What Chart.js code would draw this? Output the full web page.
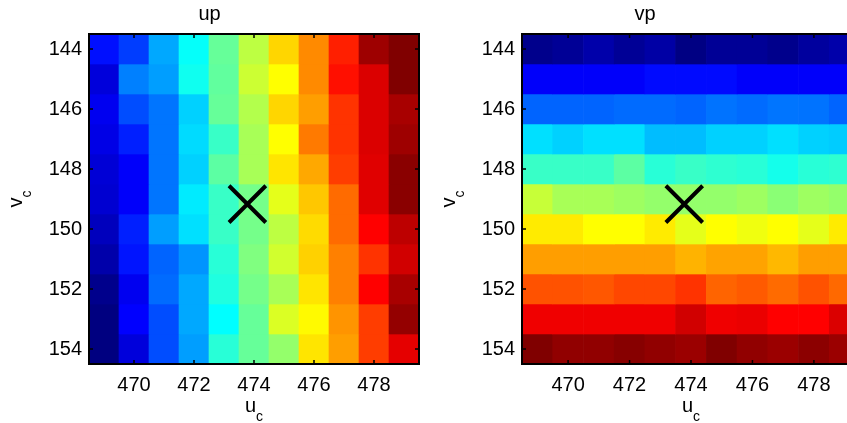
<!DOCTYPE html>
<html>
<head>
<meta charset="utf-8">
<script src="https://cdn.jsdelivr.net/npm/chart.js@4"></script>
<style>
    html, body { margin: 0; padding: 0; background: #fff; overflow: hidden; width: 847px; height: 423px; }
    .panel { position: absolute; top: 0; width: 430px; height: 423px; }
</style>
</head>
<body>
<div class="panel" style="left:0"><canvas id="upChart"></canvas></div>
<div class="panel" style="left:430px"><canvas id="vpChart"></canvas></div>
<script>
// grid coordinates
const uValues = [469, 470, 471, 472, 473, 474, 475, 476, 477, 478, 479];
const vValues = [144, 145, 146, 147, 148, 149, 150, 151, 152, 153, 154];
const xTicks = [470, 472, 474, 476, 478];
const yTicks = [144, 146, 148, 150, 152, 154];

// marked point (uc, vc)
const markU = [473.78];
const markV = [149.17];

// colormap levels (0..1), one row per vc, one column per uc
const upLevels = [
    [0.14, 0.185, 0.29, 0.38, 0.475, 0.56, 0.665, 0.74, 0.845, 0.97, 1.0],
    [0.09, 0.25, 0.28, 0.39, 0.47, 0.575, 0.625, 0.74, 0.86, 0.91, 1.0],
    [0.11, 0.20, 0.24, 0.33, 0.475, 0.55, 0.665, 0.72, 0.825, 0.91, 0.96],
    [0.10, 0.155, 0.24, 0.34, 0.43, 0.54, 0.625, 0.755, 0.825, 0.91, 0.97],
    [0.085, 0.12, 0.24, 0.33, 0.465, 0.54, 0.65, 0.71, 0.815, 0.905, 0.99],
    [0.08, 0.12, 0.24, 0.355, 0.43, 0.49, 0.60, 0.68, 0.77, 0.905, 0.99],
    [0.06, 0.155, 0.28, 0.345, 0.43, 0.49, 0.56, 0.66, 0.77, 0.875, 0.94],
    [0.042, 0.145, 0.223, 0.27, 0.414, 0.50, 0.58, 0.67, 0.75, 0.825, 0.92],
    [0.012, 0.11, 0.23, 0.29, 0.405, 0.49, 0.54, 0.65, 0.75, 0.875, 0.96],
    [0.0, 0.125, 0.20, 0.29, 0.375, 0.475, 0.59, 0.63, 0.73, 0.815, 0.98],
    [0.0, 0.09, 0.20, 0.28, 0.414, 0.475, 0.52, 0.65, 0.72, 0.815, 0.90]
];

const vpLevels = [
    [0.012, 0.022, 0.042, 0.022, 0.037, 0.003, 0.022, 0.022, 0.012, 0.03, 0.042],
    [0.12, 0.12, 0.12, 0.12, 0.135, 0.135, 0.135, 0.12, 0.12, 0.12, 0.12],
    [0.223, 0.223, 0.223, 0.23, 0.23, 0.223, 0.238, 0.23, 0.24, 0.238, 0.223],
    [0.345, 0.33, 0.345, 0.345, 0.31, 0.31, 0.33, 0.33, 0.345, 0.33, 0.325],
    [0.43, 0.43, 0.43, 0.465, 0.414, 0.43, 0.42, 0.414, 0.395, 0.414, 0.42],
    [0.57, 0.54, 0.54, 0.53, 0.52, 0.52, 0.52, 0.53, 0.51, 0.53, 0.52],
    [0.645, 0.645, 0.625, 0.625, 0.645, 0.60, 0.625, 0.61, 0.625, 0.60, 0.645],
    [0.72, 0.72, 0.72, 0.72, 0.72, 0.70, 0.715, 0.715, 0.695, 0.72, 0.72],
    [0.795, 0.795, 0.79, 0.805, 0.805, 0.825, 0.777, 0.787, 0.77, 0.795, 0.772],
    [0.89, 0.89, 0.89, 0.89, 0.89, 0.92, 0.89, 0.895, 0.875, 0.875, 0.91],
    [1.0, 0.983, 0.983, 0.993, 0.983, 0.973, 1.0, 0.983, 0.973, 0.988, 0.973]
];

const FONT = "'Liberation Sans', Arial, Helvetica, sans-serif";
Chart.defaults.font.family = FONT;
Chart.defaults.color = '#000';

// matlab style jet colormap
function jet(t) {
    const c = (x) => Math.round(255 * Math.max(0, Math.min(1, x)));
    return 'rgb(' + c(1.5 - Math.abs(4 * t - 3)) + ',' + c(1.5 - Math.abs(4 * t - 2)) + ',' + c(1.5 - Math.abs(4 * t - 1)) + ')';
}

// draws "main" with a lowered subscript, optionally rotated
function drawSubLabel(ctx, main, sub, x, y, rotated) {
    ctx.save();
    ctx.translate(x, y);
    if (rotated) ctx.rotate(-Math.PI / 2);
    ctx.fillStyle = '#000';
    ctx.textBaseline = 'alphabetic';
    ctx.textAlign = 'left';
    ctx.font = '20px ' + FONT;
    const w1 = ctx.measureText(main).width;
    ctx.font = '14px ' + FONT;
    const w2 = ctx.measureText(sub).width;
    const start = -(w1 + w2) / 2;
    ctx.font = '20px ' + FONT;
    ctx.fillText(main, start, 0);
    ctx.font = '14px ' + FONT;
    ctx.fillText(sub, start + w1, 9);
    ctx.restore();
}

// box, inward ticks and axis labels
const matlabAxes = {
    id: 'matlabAxes',
    afterDraw(chart) {
        const ctx = chart.ctx;
        const ca = chart.chartArea;
        const xs = chart.scales.x, ys = chart.scales.y;
        ctx.save();
        ctx.strokeStyle = '#000';
        ctx.lineWidth = 2;
        ctx.strokeRect(ca.left, ca.top, ca.right - ca.left, ca.bottom - ca.top);
        ctx.lineWidth = 1.5;
        ctx.beginPath();
        xTicks.forEach(v => {
            const px = xs.getPixelForValue(v);
            ctx.moveTo(px, ca.top); ctx.lineTo(px, ca.top + 4);
            ctx.moveTo(px, ca.bottom); ctx.lineTo(px, ca.bottom - 4);
        });
        yTicks.forEach(v => {
            const py = ys.getPixelForValue(v);
            ctx.moveTo(ca.left, py); ctx.lineTo(ca.left + 4, py);
            ctx.moveTo(ca.right, py); ctx.lineTo(ca.right - 4, py);
        });
        ctx.stroke();
        ctx.restore();

        const midX = (ca.left + ca.right) / 2;
        const midY = (ca.top + ca.bottom) / 2;
        drawSubLabel(ctx, 'u', 'c', midX, 412, false);
        drawSubLabel(ctx, 'v', 'c', ca.left - 67, midY, true);
    }
};

function makeHeatmap(canvasId, title, levels, axisWidth, padRight) {
    const datasets = [{
        type: 'scatter',
        data: markU.map((u, i) => ({ x: u, y: markV[i] })),
        pointStyle: 'crossRot',
        pointRadius: 26,
        pointHoverRadius: 26,
        pointBorderWidth: 4,
        pointHoverBorderWidth: 4,
        pointBorderColor: '#000',
        pointBackgroundColor: '#000'
    }];

    vValues.forEach((v, r) => {
        datasets.push({
            type: 'bar',
            data: uValues.map(u => ({ x: u, y: [v - 0.5, v + 0.5] })),
            backgroundColor: levels[r].map(jet),
            borderWidth: 0,
            grouped: false,
            barPercentage: 1,
            categoryPercentage: 1
        });
    });

    return new Chart(document.getElementById(canvasId), {
        type: 'bar',
        data: { datasets: datasets },
        options: {
            responsive: true,
            maintainAspectRatio: false,
            animation: false,
            layout: {
                autoPadding: false, // the big marker must not shrink the plot
                padding: { top: 0, right: padRight, bottom: 0, left: 0 }
            },
            plugins: {
                legend: { display: false },
                tooltip: { enabled: false },
                title: {
                    display: true,
                    text: title,
                    color: '#000',
                    font: { size: 20, weight: 'normal' },
                    padding: { top: 2, bottom: 8 }
                }
            },
            scales: {
                x: {
                    type: 'linear',
                    min: 468.5,
                    max: 479.5,
                    offset: false,
                    grid: { display: false, drawTicks: false },
                    border: { display: false },
                    afterBuildTicks: (s) => { s.ticks = xTicks.map(v => ({ value: v })); },
                    afterFit: (s) => { s.height = 59; },
                    ticks: {
                        font: { size: 20 },
                        padding: 9,
                        maxRotation: 0,
                        autoSkip: false,
                        callback: (v) => String(v)
                    }
                },
                y: {
                    type: 'linear',
                    reverse: true,
                    min: 143.5,
                    max: 154.5,
                    grid: { display: false, drawTicks: false },
                    border: { display: false },
                    afterBuildTicks: (s) => { s.ticks = yTicks.map(v => ({ value: v })); },
                    afterFit: (s) => { s.width = axisWidth; },
                    ticks: {
                        font: { size: 20 },
                        padding: 7,
                        autoSkip: false,
                        callback: (v) => String(v)
                    }
                }
            }
        },
        plugins: [matlabAxes]
    });
}

makeHeatmap('upChart', 'up', upLevels, 89, 11);
makeHeatmap('vpChart', 'vp', vpLevels, 92, 0);
</script>
</body>
</html>
